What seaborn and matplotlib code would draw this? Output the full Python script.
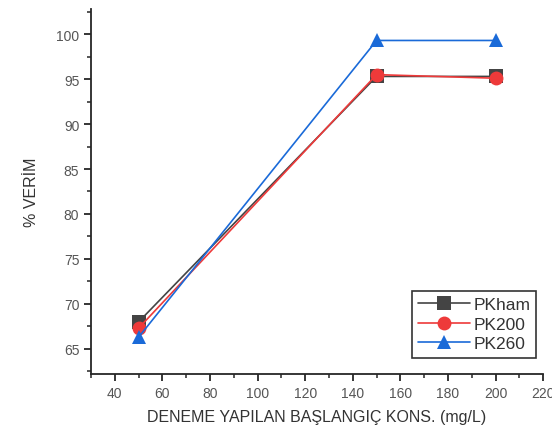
import numpy as np
import pandas as pd
import matplotlib
matplotlib.use("Agg")
import matplotlib.pyplot as plt
import seaborn as sns
from matplotlib.ticker import MultipleLocator

konsantrasyon = [50, 150, 200]
pk_ham = [68.0, 95.3, 95.3]
pk_200 = [67.3, 95.5, 95.1]
pk_260 = [66.3, 99.3, 99.3]
seri_adlari = ["PKham", "PK200", "PK260"]

df = pd.DataFrame({
    "kons": konsantrasyon * 3,
    "verim": pk_ham + pk_200 + pk_260,
    "seri": [s for s in seri_adlari for _ in konsantrasyon],
})

sns.set_style("ticks")
plt.rcParams["font.family"] = ["Liberation Sans", "DejaVu Sans"]

renkler = {"PKham": "#444444", "PK200": "#ee3a3a", "PK260": "#1a6ad8"}
isaretler = {"PKham": "s", "PK200": "o", "PK260": "^"}

fig = plt.figure(figsize=(5.52, 4.35), dpi=100)
ax = fig.add_axes([0.165, 0.138, 0.819, 0.839])

sns.lineplot(data=df, x="kons", y="verim", hue="seri", style="seri",
             palette=renkler, markers=isaretler, dashes=False,
             markersize=10, linewidth=1.2, markeredgewidth=0, ax=ax)

ax.set_xlim(30, 220)
ax.set_ylim(62.2, 102.8)
ax.xaxis.set_major_locator(MultipleLocator(20))
ax.xaxis.set_minor_locator(MultipleLocator(10))
ax.yaxis.set_major_locator(MultipleLocator(5))
ax.yaxis.set_minor_locator(MultipleLocator(2.5))
ax.tick_params(which="major", direction="out", length=5, width=1.3, labelsize=10, labelcolor="#555555")
ax.tick_params(which="minor", direction="out", length=3, width=1.1)
ax.set_xticks(np.arange(40, 221, 20))
sns.despine(ax=ax)
for s in ["left", "bottom"]:
    ax.spines[s].set_linewidth(1.3)

ax.set_xlabel("DENEME YAPILAN BAŞLANGIÇ KONS. (mg/L)", fontsize=11.5, color="#333333", labelpad=7)
ax.set_ylabel("% VERİM", fontsize=11.5, color="#333333", labelpad=12)

leg = ax.legend(loc="lower right", bbox_to_anchor=(0.985, 0.045), frameon=True, fancybox=False,
                fontsize=12.5, handlelength=3.0, borderpad=0.35, labelspacing=0.25, handletextpad=0.2,
                borderaxespad=0)
leg.get_frame().set_edgecolor("black")
leg.get_frame().set_linewidth(1.2)
for t in leg.get_texts():
    t.set_color("#333333")

fig.savefig("out.png", dpi=100)
